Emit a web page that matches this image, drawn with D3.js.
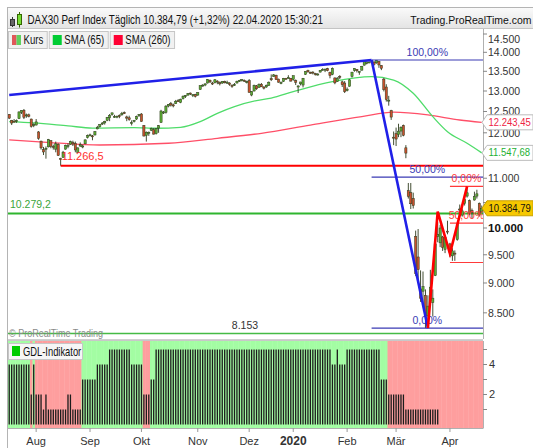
<!DOCTYPE html>
<html>
<head>
<meta charset="utf-8">
<script src="https://cdn.jsdelivr.net/npm/d3@7/dist/d3.min.js"></script>
<style>
  body { margin: 0; background: #fff; }
  svg { display: block; font-family: "Liberation Sans", Arial, sans-serif; }
</style>
</head>
<body>
<svg id="chart" width="533" height="448"></svg>
<script>
// trading days on the chart (Xetra calendar)
var days = [
  "2019-07-17","2019-07-18","2019-07-19","2019-07-22","2019-07-23","2019-07-24","2019-07-25","2019-07-26","2019-07-29","2019-07-30","2019-07-31",
  "2019-08-01","2019-08-02","2019-08-05","2019-08-06","2019-08-07","2019-08-08","2019-08-09","2019-08-12","2019-08-13","2019-08-14","2019-08-15","2019-08-16","2019-08-19","2019-08-20","2019-08-21","2019-08-22","2019-08-23","2019-08-26","2019-08-27","2019-08-28","2019-08-29","2019-08-30",
  "2019-09-02","2019-09-03","2019-09-04","2019-09-05","2019-09-06","2019-09-09","2019-09-10","2019-09-11","2019-09-12","2019-09-13","2019-09-16","2019-09-17","2019-09-18","2019-09-19","2019-09-20","2019-09-23","2019-09-24","2019-09-25","2019-09-26","2019-09-27","2019-09-30",
  "2019-10-01","2019-10-02","2019-10-03","2019-10-04","2019-10-07","2019-10-08","2019-10-09","2019-10-10","2019-10-11","2019-10-14","2019-10-15","2019-10-16","2019-10-17","2019-10-18","2019-10-21","2019-10-22","2019-10-23","2019-10-24","2019-10-25","2019-10-28","2019-10-29","2019-10-30","2019-10-31",
  "2019-11-01","2019-11-04","2019-11-05","2019-11-06","2019-11-07","2019-11-08","2019-11-11","2019-11-12","2019-11-13","2019-11-14","2019-11-15","2019-11-18","2019-11-19","2019-11-20","2019-11-21","2019-11-22","2019-11-25","2019-11-26","2019-11-27","2019-11-28","2019-11-29",
  "2019-12-02","2019-12-03","2019-12-04","2019-12-05","2019-12-06","2019-12-09","2019-12-10","2019-12-11","2019-12-12","2019-12-13","2019-12-16","2019-12-17","2019-12-18","2019-12-19","2019-12-20","2019-12-23","2019-12-27","2019-12-30",
  "2020-01-02","2020-01-03","2020-01-06","2020-01-07","2020-01-08","2020-01-09","2020-01-10","2020-01-13","2020-01-14","2020-01-15","2020-01-16","2020-01-17","2020-01-20","2020-01-21","2020-01-22","2020-01-23","2020-01-24","2020-01-27","2020-01-28","2020-01-29","2020-01-30","2020-01-31",
  "2020-02-03","2020-02-04","2020-02-05","2020-02-06","2020-02-07","2020-02-10","2020-02-11","2020-02-12","2020-02-13","2020-02-14","2020-02-17","2020-02-18","2020-02-19","2020-02-20","2020-02-21","2020-02-24","2020-02-25","2020-02-26","2020-02-27","2020-02-28",
  "2020-03-02","2020-03-03","2020-03-04","2020-03-05","2020-03-06","2020-03-09","2020-03-10","2020-03-11","2020-03-12","2020-03-13","2020-03-16","2020-03-17","2020-03-18","2020-03-19","2020-03-20","2020-03-23","2020-03-24","2020-03-25","2020-03-26","2020-03-27","2020-03-30","2020-03-31",
  "2020-04-01","2020-04-02","2020-04-03","2020-04-06","2020-04-07","2020-04-08","2020-04-09","2020-04-14","2020-04-15","2020-04-16","2020-04-17","2020-04-20","2020-04-21","2020-04-22"
];

var opens = [
  12430,12290,12270,12260,12330,12480,12530,12400,12420,12320,12170,
  12180,12020,11810,11620,11640,11680,11820,11690,11630,11740,11420,11450,11630,11690,11740,11780,11760,11560,11700,11680,11750,11890,
  11950,11930,11950,12090,12140,12220,12230,12290,12350,12430,12380,12380,12400,12420,12470,12370,12350,12230,12270,12320,12400,
  12440,12170,11940,12000,12060,12070,11980,12110,12240,12480,12480,12630,12690,12660,12690,12760,12720,12810,12860,12900,12950,12900,12910,
  12900,13040,13140,13150,13200,13270,13200,13210,13250,13210,13200,13240,13210,13200,13140,13150,13200,13250,13260,13270,13230,
  13260,12900,13000,13130,13090,13170,13100,13100,13140,13310,13370,13400,13300,13210,13240,13320,13330,13320,
  13290,13260,13100,13180,13150,13420,13520,13470,13480,13440,13420,13480,13530,13530,13570,13470,13420,13330,13240,13370,13230,13200,
  13010,13120,13370,13520,13550,13470,13530,13660,13710,13740,13760,13740,13720,13760,13650,13300,13100,12760,12520,11900,
  11980,11960,12040,12170,11660,10740,10700,10580,9840,9460,8900,8860,8790,8450,8700,8670,9130,9840,9720,9830,9600,9940,
  9700,9480,9530,9780,10370,10250,10480,10630,10540,10340,10550,10630,10480,10310
];
var highs = [
  12440,12300,12320,12310,12500,12530,12560,12450,12450,12330,12220,
  12320,12040,11820,11680,11690,11860,11830,11730,11800,11760,11440,11590,11730,11760,11820,11820,11800,11670,11780,11730,11850,11960,
  11980,11950,12040,12160,12200,12250,12280,12370,12440,12470,12420,12400,12430,12490,12500,12400,12400,12290,12300,12400,12440,
  12460,12180,12030,12030,12120,12110,12110,12180,12540,12510,12650,12680,12730,12690,12780,12800,12810,12890,12900,12950,12960,12920,12930,
  12970,13140,13170,13190,13300,13290,13230,13300,13270,13240,13250,13260,13260,13220,13170,13200,13260,13280,13300,13290,13260,
  13300,13000,13160,13150,13190,13200,13120,13160,13240,13420,13430,13410,13310,13240,13330,13330,13400,13330,
  13390,13290,13140,13230,13330,13500,13540,13490,13500,13460,13450,13530,13580,13570,13590,13490,13600,13340,13350,13400,13260,13250,
  13090,13300,13480,13580,13560,13500,13640,13760,13760,13760,13790,13770,13795,13770,13660,13330,13170,12880,12540,12030,
  12120,12210,12150,12190,11720,10900,10900,10700,9950,9980,9220,9200,8890,8790,9230,8890,9730,10110,10060,9850,9830,10140,
  9720,9620,9580,10100,10460,10380,10600,10820,10560,10380,10720,10760,10500,10440
];
var lows = [
  12320,12180,12240,12230,12320,12440,12320,12350,12360,12120,12130,
  12170,11840,11620,11500,11420,11670,11650,11620,11560,11480,11267,11440,11620,11650,11730,11700,11560,11550,11680,11650,11740,11870,
  11920,11830,11940,12080,12120,12180,12190,12270,12270,12400,12350,12340,12340,12400,12440,12270,12280,12170,12240,12300,12370,
  12260,11920,11800,11930,12040,11960,11960,12000,12230,12440,12450,12600,12620,12600,12680,12730,12700,12790,12830,12880,12900,12850,12840,
  12880,13030,13110,13120,13190,13200,13150,13190,13170,13140,13180,13190,13180,13130,13080,13130,13190,13230,13240,13230,13190,
  12960,12870,12990,13030,13080,13100,13040,13080,13130,13250,13360,13280,13210,13170,13230,13290,13320,13240,
  13260,13150,12950,13140,13090,13410,13470,13440,13420,13390,13390,13470,13520,13480,13500,13320,13400,13170,13230,13300,13100,12950,
  12990,13110,13340,13490,13470,13410,13520,13650,13680,13710,13740,13650,13700,13590,13530,12990,12740,12640,12300,11720,
  11700,11900,11900,11920,11430,10580,10370,10380,9120,9000,8680,8620,8255,8380,8660,8440,9120,9730,9640,9570,9530,9880,
  9460,9390,9390,9760,10250,10220,10440,10600,10250,10180,10540,10580,10220,10290
];
var closes = [
  12342,12227,12260,12289,12490,12522,12362,12419,12386,12147,12189,
  12253,11872,11658,11567,11650,11845,11694,11679,11750,11493,11412,11563,11715,11712,11802,11747,11612,11658,11731,11701,11838,11939,
  11953,11910,12025,12126,12191,12226,12268,12359,12410,12468,12380,12389,12389,12457,12468,12342,12307,12234,12288,12381,12428,
  12263,11925,12014,12013,12097,11970,12094,12164,12511,12486,12630,12670,12654,12634,12748,12754,12798,12872,12895,12941,12939,12910,12867,
  12961,13136,13148,13179,13289,13228,13198,13283,13230,13180,13242,13207,13221,13163,13137,13163,13246,13264,13287,13245,13236,
  12965,12989,13140,13055,13166,13105,13071,13145,13221,13283,13407,13287,13222,13212,13319,13300,13337,13249,
  13386,13219,13127,13227,13321,13495,13483,13452,13456,13432,13430,13526,13549,13556,13515,13389,13577,13205,13324,13345,13158,12982,
  13046,13282,13479,13575,13514,13494,13627,13750,13745,13744,13783,13681,13790,13665,13579,13035,12790,12775,12367,11890,
  11857,12038,12128,11944,11542,10625,10475,10439,9161,9232,8742,8939,8442,8610,8929,8742,9701,9874,10000,9633,9816,9936,
  9544,9571,9525,10075,10356,10333,10565,10697,10280,10302,10626,10676,10250,10385
];

// GDL-Indikator, one value per day
var gdl = [
  4,4,4,4,4,4,4,4,4,2,4,
  2,2,2,1,2,1,1,1,1,1,1,1,1,2,2,1,1,1,1,3,3,3,
  3,3,3,4,4,4,4,4,5,5,5,5,5,5,5,5,5,4,4,4,4,
  4,2,2,2,3,3,5,5,5,5,5,5,5,5,5,5,5,5,5,5,5,5,5,
  5,5,5,5,5,5,5,5,5,5,5,5,5,5,5,5,5,5,5,5,5,
  5,5,5,5,5,5,5,5,5,5,5,5,5,5,5,5,5,5,
  5,5,5,5,5,5,5,5,5,5,5,5,5,5,5,5,4,4,5,4,4,4,
  5,5,5,5,5,5,5,5,5,5,5,5,5,5,3,3,3,2,2,2,
  2,2,2,2,1,1,1,1,1,1,1,1,1,1,1,1,1,1,0,0,0,0,
  0,0,0,0,0,0,0,0,0,0,0,0,0,0
];

// moving averages
var sma65Days = ["2019-07-17","2019-07-31","2019-08-20","2019-09-03","2019-09-26","2019-10-09","2019-10-23","2019-11-04","2019-11-13","2019-11-22","2019-12-05","2019-12-13","2020-01-02","2020-01-24","2020-02-17","2020-02-28","2020-03-11","2020-03-23","2020-03-31","2020-04-14","2020-04-22"];
var sma65 = [12258,12230,12160,12110,12120,12105,12126,12258,12457,12619,12765,12825,12983,13235,13363,13277,12945,12377,12025,11762,11548];
var sma260Days = ["2019-07-17","2019-08-09","2019-09-06","2019-10-16","2019-11-13","2019-12-09","2020-01-13","2020-02-11","2020-02-28","2020-03-19","2020-04-07","2020-04-22"];
var sma260 = [11838,11777,11723,11762,11874,11989,12180,12377,12483,12418,12298,12243];
var sma65Last = 11547.68;
var sma260Last = 12243.45;
var lastClose = 10384.79;

// drawing objects
var upperTrend = [["2019-07-17", 12900], ["2020-02-17", 13795]];
var crashLine = [["2020-02-17", 13795], ["2020-03-19", 8255]];
var zigzag = [["2020-03-19", 8255], ["2020-03-25", 10320], ["2020-04-01", 9520], ["2020-04-14", 10830]];
var fibBlueStart = "2020-02-17", fibBlueHigh = 13795, fibBlueLow = 8255;
var fibRedStart = "2020-04-01", fibRedHigh = 10830, fibRedLow = 9360;
var redLevel = 11266.5, redLevelStart = "2019-08-15";
var greenLevel = 10279.2;
var lowLevel = 8153;

var priceTicks = [8500,9000,9500,10000,10500,11000,11500,12000,12500,13000,13500,14000,14500];
var monthDays = ["2019-08-01","2019-09-02","2019-10-01","2019-11-01","2019-12-02","2020-01-02","2020-02-03","2020-03-02","2020-04-01"];
var monthLabels = ["Aug","Sep","Okt","Nov","Dez","2020","Feb","Mär","Apr"];
var gdlTicks = [1,2,3,4,5];
var gdlLabels = [2,4];

var titleText = "DAX30 Perf Index Täglich 10.384,79 (+1,32%) 22.04.2020 15:30:21";
var siteText = "Trading.ProRealTime.com";
var legendNames = ["Kurs", "SMA (65)", "SMA (260)"];

var de = d3.formatLocale({decimal: ",", thousands: ".", grouping: [3], currency: ["", " €"]});
var fmtInt = de.format(",d"), fmt1 = de.format(",.1f"), fmt2 = de.format(",.2f"), fmtPct = de.format(".2f");

var W = 533, H = 448;
var L = 8, R = 483;
var pTop = 28, pBottom = 339;
var iTop = 341, iBottom = 428;

var svg = d3.select("#chart");

var x = d3.scalePoint().domain(days).range([L, R]).padding(0.5);
var step = x.step();
var y = d3.scaleLog().domain([lowLevel, 14500]).range([334.6, 34]);
var yI = d3.scaleLinear().domain([0, 5]).range([424.5, 349.5]);

var defs = svg.append("defs");
var tg = defs.append("linearGradient").attr("id", "tg").attr("x1", 0).attr("x2", 0).attr("y1", 0).attr("y2", 1);
tg.append("stop").attr("offset", "0%").attr("stop-color", "#fbfbfb");
tg.append("stop").attr("offset", "100%").attr("stop-color", "#e4e4e4");
defs.append("clipPath").attr("id", "clipP").append("rect")
  .attr("x", L).attr("y", pTop).attr("width", R - L).attr("height", pBottom - pTop);
defs.append("clipPath").attr("id", "clipI").append("rect")
  .attr("x", L).attr("y", iTop).attr("width", R - L).attr("height", iBottom - iTop);

svg.append("rect").attr("width", W).attr("height", H).attr("fill", "#fff");

function condText(g, str, tx, ty, size, color, sx, anchor) {
  return g.append("text")
    .attr("transform", "translate(" + tx + "," + ty + ") scale(" + sx + ",1)")
    .attr("font-size", size).attr("fill", color)
    .attr("text-anchor", anchor || "start")
    .text(str);
}

// ---------------- indicator panel ----------------
var gI = svg.append("g").attr("clip-path", "url(#clipI)");
gI.selectAll("rect.bg").data(days).enter().append("rect")
  .attr("x", d => x(d) - step / 2)
  .attr("y", iTop)
  .attr("width", step + 0.4)
  .attr("height", iBottom - iTop)
  .attr("fill", (d, i) => gdl[i] >= 3 ? "#a3fda3" : "#fe9e9e");
gI.selectAll("rect.bar").data(days.filter((d, i) => gdl[i] > 0)).enter().append("rect")
  .attr("x", d => x(d) - 0.65)
  .attr("y", d => yI(gdl[days.indexOf(d)]))
  .attr("width", 1.3)
  .attr("height", d => yI(0) - yI(gdl[days.indexOf(d)]))
  .attr("fill", "#1c1c1c");

svg.append("line").attr("x1", L).attr("x2", R).attr("y1", iTop - 0.5).attr("y2", iTop - 0.5).attr("stroke", "#c8c8c8");

var gIl = svg.append("g");
gIl.append("rect").attr("x", 8.5).attr("y", 343.5).attr("width", 74).attr("height", 16)
  .attr("fill", "#f6f6f6").attr("stroke", "#c6c6c6");
gIl.append("rect").attr("x", 12).attr("y", 346).attr("width", 8).attr("height", 10).attr("fill", "#00cc00");
condText(gIl, "GDL-Indikator", 23, 356, 12, "#111", 0.78);

// indicator right axis
svg.append("line").attr("x1", R + 0.5).attr("x2", R + 0.5).attr("y1", iTop).attr("y2", iBottom).attr("stroke", "#b0b0b0");
svg.selectAll("line.itick").data(gdlTicks).enter().append("line")
  .attr("x1", R).attr("x2", R + 4).attr("y1", d => yI(d)).attr("y2", d => yI(d)).attr("stroke", "#888");
svg.selectAll("text.ilab").data(gdlLabels).enter().append("text")
  .attr("x", R + 6).attr("y", d => yI(d)).attr("dy", "0.36em")
  .attr("font-size", 11).attr("fill", "#333").text(d => d);

// bottom axis
svg.append("line").attr("x1", L).attr("x2", R + 0.5).attr("y1", iBottom + 0.5).attr("y2", iBottom + 0.5).attr("stroke", "#b0b0b0");
svg.selectAll("line.mtick").data(monthDays).enter().append("line")
  .attr("x1", d => x(d)).attr("x2", d => x(d)).attr("y1", iBottom).attr("y2", iBottom + 4).attr("stroke", "#999");
svg.selectAll("text.mlab").data(monthDays).enter().append("text")
  .attr("x", d => x(d)).attr("y", 445)
  .attr("text-anchor", "middle")
  .attr("font-size", (d, i) => monthLabels[i] === "2020" ? 12 : 11)
  .attr("font-weight", (d, i) => monthLabels[i] === "2020" ? "bold" : "normal")
  .attr("fill", "#333")
  .text((d, i) => monthLabels[i]);

// ---------------- price panel ----------------
var gP = svg.append("g").attr("clip-path", "url(#clipP)");

var smaLine = d3.line().x(d => x(d[0])).y(d => y(d[1])).curve(d3.curveMonotoneX);
gP.append("path").datum(sma260Days.map((d, i) => [d, sma260[i]]))
  .attr("d", smaLine).attr("fill", "none").attr("stroke", "#ff4f68").attr("stroke-width", 1.3);
gP.append("path").datum(sma65Days.map((d, i) => [d, sma65[i]]))
  .attr("d", smaLine).attr("fill", "none").attr("stroke", "#4fdc6a").attr("stroke-width", 1.3);

// horizontal levels
gP.append("line").attr("x1", L).attr("x2", R).attr("y1", y(greenLevel)).attr("y2", y(greenLevel))
  .attr("stroke", "#2fb52f").attr("stroke-width", 2);
gP.append("line").attr("x1", L).attr("x2", R).attr("y1", y(lowLevel) - 1).attr("y2", y(lowLevel) - 1)
  .attr("stroke", "#45bb45").attr("stroke-width", 1.5);

// candles
var rows = days.map((d, i) => ({day: d, o: opens[i], h: highs[i], l: lows[i], c: closes[i]}));
var cg = gP.selectAll("g.candle").data(rows).enter().append("g");
cg.append("line")
  .attr("x1", d => x(d.day)).attr("x2", d => x(d.day))
  .attr("y1", d => y(d.h)).attr("y2", d => y(d.l))
  .attr("stroke", "#2e3a1c").attr("stroke-width", 0.9);
cg.append("rect")
  .attr("x", d => x(d.day) - 1.1)
  .attr("y", d => y(Math.max(d.o, d.c)))
  .attr("width", 2.2)
  .attr("height", d => Math.max(1, Math.abs(y(d.o) - y(d.c))))
  .attr("fill", d => d.c >= d.o ? "#5cae34" : "#c8502e")
  .attr("stroke", "#2e3a1c").attr("stroke-width", 0.5);

// red support level
gP.append("line").attr("x1", x(redLevelStart)).attr("x2", R).attr("y1", y(redLevel)).attr("y2", y(redLevel))
  .attr("stroke", "#ff0000").attr("stroke-width", 2);

// fibonacci retracements; highAtTop: the high carries 100 %
function fib(start, hi, lo, color, labelled, highIs100) {
  var x0 = x(start), mid = (x0 + R) / 2;
  var lv = [[0, hi], [0.5, (hi + lo) / 2], [1, lo]];
  gP.selectAll(null).data(lv).enter().append("line")
    .attr("x1", x0).attr("x2", R)
    .attr("y1", d => y(d[1])).attr("y2", d => y(d[1]))
    .attr("stroke", color).attr("stroke-width", 1.2);
  gP.selectAll(null).data(lv.filter(d => labelled.indexOf(d[0]) >= 0)).enter().append("text")
    .attr("x", mid).attr("y", d => y(d[1]) - 4.5)
    .attr("text-anchor", "middle").attr("font-size", 10.5).attr("fill", color)
    .text(d => fmtPct((highIs100 ? 1 - d[0] : d[0]) * 100) + "%");
}
fib(fibBlueStart, fibBlueHigh, fibBlueLow, "#3a3ab4", [0, 0.5, 1], true);
fib(fibRedStart, fibRedHigh, fibRedLow, "#ff3a3a", [0, 0.5], false);

// trend lines
var tl = d3.line().x(d => x(d[0])).y(d => y(d[1]));
gP.append("path").datum(upperTrend).attr("d", tl).attr("fill", "none").attr("stroke", "#2020e8").attr("stroke-width", 2.6);
gP.append("path").datum(crashLine).attr("d", tl).attr("fill", "none").attr("stroke", "#2020e8").attr("stroke-width", 2.6);
gP.append("path").datum(zigzag).attr("d", tl).attr("fill", "none").attr("stroke", "#ff0000").attr("stroke-width", 2.6);

// level labels
gP.append("text").attr("x", x(redLevelStart) + 1).attr("y", y(redLevel) - 6)
  .attr("font-size", 11).attr("fill", "#ff3030").text(fmt1(redLevel));
gP.append("text").attr("x", 10).attr("y", y(greenLevel) - 6)
  .attr("font-size", 10.5).attr("fill", "#3aa53a").text(fmt1(greenLevel));
gP.append("text").attr("x", 245).attr("y", y(lowLevel) - 6)
  .attr("text-anchor", "middle").attr("font-size", 10.5).attr("fill", "#333").text(fmtInt(lowLevel));
condText(gP, "© ProRealTime Trading", 9, 337, 10.5, "#8a8a8a", 0.86);

// right price axis
var tagValues = [sma260Last, sma65Last, lastClose];
svg.append("line").attr("x1", R + 0.5).attr("x2", R + 0.5).attr("y1", pTop).attr("y2", pBottom).attr("stroke", "#b0b0b0");
svg.append("line").attr("x1", L).attr("x2", R).attr("y1", pBottom + 0.5).attr("y2", pBottom + 0.5).attr("stroke", "#d0d0d0");
svg.selectAll("line.ptick").data(priceTicks).enter().append("line")
  .attr("x1", R).attr("x2", R + 4).attr("y1", d => y(d)).attr("y2", d => y(d)).attr("stroke", "#888");
// labels hidden behind the value tags are not drawn
svg.selectAll("text.plab")
  .data(priceTicks.filter(d => tagValues.every(t => Math.abs(y(t) - y(d)) > 9)))
  .enter().append("text")
  .attr("x", R + 5).attr("y", d => Math.max(y(d), 39)).attr("dy", "0.36em")
  .attr("font-size", d => d === 10000 ? 11.5 : 10.5)
  .attr("font-weight", d => d === 10000 ? "bold" : "normal")
  .attr("fill", d => d === 10000 ? "#111" : "#333")
  .text(d => fmtInt(d));

function tag(v, fill, color, stroke) {
  var yc = y(v);
  svg.append("path")
    .attr("d", "M" + (R - 1) + "," + yc + "L" + (R + 4) + "," + (yc - 7.5) + "H" + W + "V" + (yc + 7.5) + "H" + (R + 4) + "Z")
    .attr("fill", fill).attr("stroke", stroke);
  condText(svg, fmt2(v), R + 5.5, yc + 3.6, 10, color, 0.95);
}
tag(sma260Last, "#ffffff", "#ee2244", "#bdbdbd");
tag(sma65Last, "#ffffff", "#22b033", "#bdbdbd");
tag(lastClose, "#f6c800", "#111", "#c9a200");

// ---------------- header ----------------
svg.append("rect").attr("x", 7).attr("y", 7).attr("width", W - 7).attr("height", 21).attr("fill", "url(#tg)");
svg.append("line").attr("x1", 7).attr("x2", W).attr("y1", 7.5).attr("y2", 7.5).attr("stroke", "#b4b4b4");
svg.append("line").attr("x1", 7).attr("x2", W).attr("y1", 28.5).attr("y2", 28.5).attr("stroke", "#c4c4c4");
svg.append("line").attr("x1", 7.5).attr("x2", 7.5).attr("y1", 7).attr("y2", H).attr("stroke", "#b4b4b4");

// small candle icon
var ic = svg.append("g");
ic.append("line").attr("x1", 12.5).attr("x2", 12.5).attr("y1", 17).attr("y2", 27).attr("stroke", "#333");
ic.append("rect").attr("x", 10.5).attr("y", 19.5).attr("width", 4).attr("height", 6).attr("fill", "#666").attr("stroke", "#333");
ic.append("line").attr("x1", 19.5).attr("x2", 19.5).attr("y1", 12).attr("y2", 27.5).attr("stroke", "#336600");
ic.append("rect").attr("x", 17.5).attr("y", 14.5).attr("width", 4).attr("height", 10).attr("fill", "#77dd33").attr("stroke", "#336600");

condText(svg, titleText, 27.5, 24, 12, "#111", 0.82);
condText(svg, siteText, 531.5, 24, 11.5, "#111", 0.91, "end");

// legend row
var lx = 8.5;
legendNames.forEach(function(name, i) {
  var g = svg.append("g");
  var t = condText(g, name, lx + 15, 44, 12, "#111", 0.8);
  var w = t.node().getComputedTextLength() * 0.8 + 19;
  g.insert("rect", "text").attr("x", lx).attr("y", 31.5).attr("width", w).attr("height", 17)
    .attr("fill", "#f1f1f1").attr("stroke", "#c6c6c6");
  if (i === 0) {
    g.append("rect").attr("x", lx + 3.5).attr("y", 35).attr("width", 4.5).attr("height", 10).attr("fill", "#e0575a");
    g.append("rect").attr("x", lx + 8).attr("y", 35).attr("width", 4.5).attr("height", 10).attr("fill", "#5fcf5f");
  } else {
    g.append("rect").attr("x", lx + 3.5).attr("y", 35).attr("width", 9).attr("height", 10)
      .attr("fill", i === 1 ? "#00cc33" : "#ff0033");
  }
  lx += w + 2;
});
</script>
</body>
</html>
